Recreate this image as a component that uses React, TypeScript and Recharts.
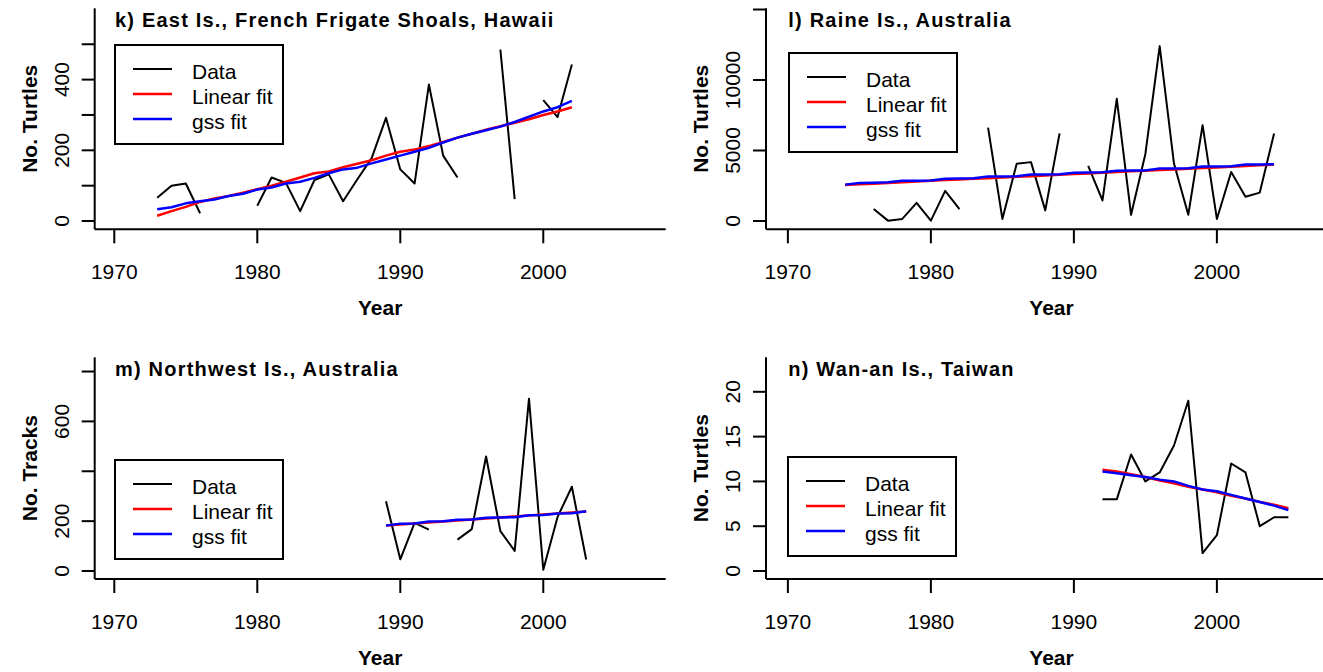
import React from 'react';
import { LineChart, Line, XAxis, YAxis, Legend } from 'recharts';

const FONT = '"Liberation Sans", Arial, Helvetica, sans-serif';

// ---------- data ----------
const xTicks = [1970, 1980, 1990, 2000];

// k) East Is., French Frigate Shoals, Hawaii
const kYears = [1973, 1974, 1975, 1976, 1977, 1978, 1979, 1980, 1981, 1982, 1983, 1984, 1985, 1986, 1987, 1988, 1989, 1990, 1991, 1992, 1993, 1994, 1995, 1996, 1997, 1998, 1999, 2000, 2001, 2002];
const kData = [66, 100, 106, 22, null, null, null, 43, 123, 108, 28, 116, 132, 56, 118, 178, 292, 146, 106, 386, 185, 123, null, null, 485, 62, null, 342, 294, 443];
const kLinear = [15, 28, 40, 54, 64, 71, 80, 90, 100, 111, 123, 135, 140, 152, 162, 172, 185, 196, 202, 212, 224, 236, 247, 258, 268, 278, 288, 300, 310, 322];
const kGss = [33, 39, 50, 56, 61, 71, 77, 89, 95, 106, 111, 122, 135, 146, 151, 163, 174, 185, 196, 207, 222, 236, 247, 257, 267, 280, 295, 310, 322, 340];
const kYTicks = [0, 100, 200, 300, 400, 500];
const kYLabels = [0, 200, 400];

// l) Raine Is., Australia
const lYears = [1974, 1975, 1976, 1977, 1978, 1979, 1980, 1981, 1982, 1983, 1984, 1985, 1986, 1987, 1988, 1989, 1990, 1991, 1992, 1993, 1994, 1995, 1996, 1997, 1998, 1999, 2000, 2001, 2002, 2003, 2004];
const lData = [null, null, 850, 25, 146, 1286, 24, 2136, 850, null, 6626, 146, 4053, 4175, 752, 6213, null, 3907, 1456, 8664, 437, 4757, 12402, 4077, 437, 6796, 146, 3470, 1723, 2014, 6213];
const lLinear = [2560, 2610, 2650, 2700, 2750, 2800, 2850, 2900, 2940, 2990, 3040, 3090, 3130, 3180, 3230, 3280, 3330, 3370, 3420, 3470, 3520, 3560, 3610, 3660, 3710, 3760, 3800, 3850, 3900, 3950, 4000];
const lGss = [2580, 2700, 2720, 2740, 2850, 2860, 2870, 3000, 3010, 3030, 3150, 3160, 3170, 3290, 3300, 3310, 3420, 3440, 3450, 3570, 3580, 3590, 3720, 3730, 3740, 3860, 3870, 3880, 4000, 4010, 4020];
const lYTicks = [0, 5000, 10000, 15000];
const lYLabels = [0, 5000, 10000];

// m) Northwest Is., Australia
const mYears = [1989, 1990, 1991, 1992, 1993, 1994, 1995, 1996, 1997, 1998, 1999, 2000, 2001, 2002, 2003];
const mData = [280, 47, 193, 166, null, 126, 168, 459, 160, 81, 691, 5, 217, 338, 46];
const mLinear = [183, 187, 191, 195, 199, 203, 207, 211, 215, 219, 223, 227, 231, 235, 239];
const mGss = [182, 190, 191, 199, 200, 206, 207, 214, 215, 216, 224, 225, 231, 232, 240];
const mYTicks = [0, 200, 400, 600, 800];
const mYLabels = [0, 200, 600];

// n) Wan-an Is., Taiwan
const nYears = [1992, 1993, 1994, 1995, 1996, 1997, 1998, 1999, 2000, 2001, 2002, 2003, 2004, 2005];
const nData = [8, 8, 13, 10, 11, 14, 19, 2, 4, 12, 11, 5, 6, 6];
const nLinear = [11.3, 11.1, 10.8, 10.5, 10.1, 9.8, 9.4, 9.1, 8.8, 8.4, 8.1, 7.7, 7.4, 7.0];
const nGss = [11.1, 10.9, 10.7, 10.5, 10.2, 10.0, 9.5, 9.1, 8.9, 8.5, 8.1, 7.7, 7.3, 6.8];
const nYTicks = [0, 5, 10, 15, 20];
const nYLabels = [0, 5, 10, 15, 20];

const legendNames = ['Data', 'Linear fit', 'gss fit'];
const seriesColors = ['#000000', '#ff0000', '#0000ff'];

// ---------- components ----------
type PanelProps = {
  left: number; top: number; height: number;
  plotLeft: number; plotTop: number; plotW: number; plotH: number;
  xDomain: [number, number]; yDomain: [number, number];
  yTicks: number[]; yLabels: number[];
  years: number[]; data: (number | null)[]; linear: number[]; gss: number[];
  title: string; yTitle: string; titleX: number;
  legendLeft: number; legendTop: number;
};

const LEG_W = 170;
const LEG_H = 101;
const legendRows = [25, 50, 75];

function LegendBox(props: any) {
  const payload = props.payload && props.payload.length === 3 ? props.payload : null;
  return (
    <div style={{ width: LEG_W, height: LEG_H, border: '2px solid #000', boxSizing: 'border-box', background: '#fff', position: 'relative' }}>
      <svg width={LEG_W - 4} height={LEG_H - 4} style={{ position: 'absolute', left: 0, top: 0 }}>
        {legendNames.map((nm, i) => {
          const color = payload ? payload[i].color : seriesColors[i];
          const label = payload ? payload[i].value : nm;
          const ry = legendRows[i] - 2;
          return (
            <g key={nm}>
              <line x1={17} x2={56} y1={ry} y2={ry} stroke={color} strokeWidth={i === 0 ? 2 : 2.5} />
              <text x={76} y={ry + 10} fontSize={21} fontFamily={FONT} fill="#000">{label}</text>
            </g>
          );
        })}
      </svg>
    </div>
  );
}

function Panel(p: PanelProps) {
  const rows = p.years.map((year, i) => ({ year, data: p.data[i], linear: p.linear[i], gss: p.gss[i] }));
  const rightPad = 15;
  const chartW = p.plotLeft + p.plotW + rightPad;
  const xAxisH = p.height - p.plotTop - p.plotH;
  const axisY = p.plotTop + p.plotH;
  const yLabX = p.plotLeft - 26;
  const yTitleX = p.plotLeft - 65;
  const yTitleY = p.plotTop + p.plotH / 2;
  return (
    <div style={{ position: 'absolute', left: p.left, top: p.top, width: chartW, height: p.height }}>
      <LineChart width={chartW} height={p.height} data={rows} margin={{ top: p.plotTop, right: rightPad, bottom: 0, left: 0 }}>
        <XAxis
          dataKey="year" type="number" domain={p.xDomain} allowDataOverflow ticks={xTicks} interval={0}
          height={xAxisH} tickSize={14}
          axisLine={{ stroke: '#000', strokeWidth: 2 }} tickLine={{ stroke: '#000', strokeWidth: 2 }}
          tick={(t: any) => (
            <text x={t.x} y={axisY + 50} textAnchor="middle" fontSize={21} fontFamily={FONT} fill="#000">{t.payload.value}</text>
          )}
        />
        <YAxis
          type="number" domain={p.yDomain} allowDataOverflow ticks={p.yTicks} interval={0}
          width={p.plotLeft} tickSize={13}
          axisLine={{ stroke: '#000', strokeWidth: 2 }} tickLine={{ stroke: '#000', strokeWidth: 2 }}
          tick={(t: any) => p.yLabels.includes(t.payload.value) ? (
            <text x={yLabX} y={t.y} transform={`rotate(-90 ${yLabX} ${t.y})`} textAnchor="middle" fontSize={21} fontFamily={FONT} fill="#000">{t.payload.value}</text>
          ) : <g />}
        />
        <Legend
          layout="vertical" align="center" verticalAlign="middle"
          wrapperStyle={{ left: p.legendLeft, top: p.legendTop, width: LEG_W, height: LEG_H }}
          content={(lp: any) => <LegendBox {...lp} />}
        />
        <Line dataKey="data" name={legendNames[0]} stroke={seriesColors[0]} strokeWidth={2} dot={false} isAnimationActive={false} connectNulls={false} strokeLinejoin="round" />
        <Line dataKey="linear" name={legendNames[1]} stroke={seriesColors[1]} strokeWidth={2.5} dot={false} isAnimationActive={false} strokeLinejoin="round" />
        <Line dataKey="gss" name={legendNames[2]} stroke={seriesColors[2]} strokeWidth={2.5} dot={false} isAnimationActive={false} strokeLinejoin="round" />
      </LineChart>
      <svg width={chartW} height={p.height} style={{ position: 'absolute', left: 0, top: 0, pointerEvents: 'none' }}>
        <text x={p.titleX} y={p.plotTop + 18.5} fontSize={20} fontWeight="bold" letterSpacing={1.2} fontFamily={FONT} fill="#000">{p.title}</text>
        <text x={p.plotLeft + p.plotW / 2} y={axisY + 85.5} textAnchor="middle" fontSize={21} fontWeight="bold" fontFamily={FONT} fill="#000">Year</text>
        <text x={yTitleX} y={yTitleY} transform={`rotate(-90 ${yTitleX} ${yTitleY})`} textAnchor="middle" dominantBaseline="central" fontSize={21} fontWeight="bold" fontFamily={FONT} fill="#000">{p.yTitle}</text>
      </svg>
    </div>
  );
}

const leftX: [number, number] = [1968.63, 2008.56];
const rightX: [number, number] = [1968.47, 2008.4];

export default function App() {
  return (
    <div style={{ position: 'absolute', left: 0, top: 0, width: 1323, height: 672, overflow: 'hidden', background: '#fff', fontFamily: FONT }}>
      <Panel left={0} top={0} height={330} plotLeft={94.7} plotTop={8.3} plotW={571} plotH={221}
        xDomain={leftX} yDomain={[-23.4, 601.7]} yTicks={kYTicks} yLabels={kYLabels}
        years={kYears} data={kData} linear={kLinear} gss={kGss}
        title="k) East Is., French Frigate Shoals, Hawaii" yTitle="No. Turtles" titleX={115}
        legendLeft={114.3} legendTop={44.3} />
      <Panel left={660} top={0} height={330} plotLeft={106} plotTop={8.3} plotW={571} plotH={221}
        xDomain={rightX} yDomain={[-589, 15085]} yTicks={lYTicks} yLabels={lYLabels}
        years={lYears} data={lData} linear={lLinear} gss={lGss}
        title="l) Raine Is., Australia" yTitle="No. Turtles" titleX={128.3}
        legendLeft={128.3} legendTop={52.3} />
      <Panel left={0} top={330} height={342} plotLeft={94.7} plotTop={27.3} plotW={571} plotH={221.7}
        xDomain={leftX} yDomain={[-32, 857]} yTicks={mYTicks} yLabels={mYLabels}
        years={mYears} data={mData} linear={mLinear} gss={mGss}
        title="m) Northwest Is., Australia" yTitle="No. Tracks" titleX={115}
        legendLeft={114.3} legendTop={129} />
      <Panel left={660} top={330} height={342} plotLeft={106} plotTop={27.3} plotW={571} plotH={221.7}
        xDomain={rightX} yDomain={[-0.89, 23.85]} yTicks={nYTicks} yLabels={nYLabels}
        years={nYears} data={nData} linear={nLinear} gss={nGss}
        title="n) Wan-an Is., Taiwan" yTitle="No. Turtles" titleX={128.3}
        legendLeft={127.3} legendTop={125.8} />
    </div>
  );
}
